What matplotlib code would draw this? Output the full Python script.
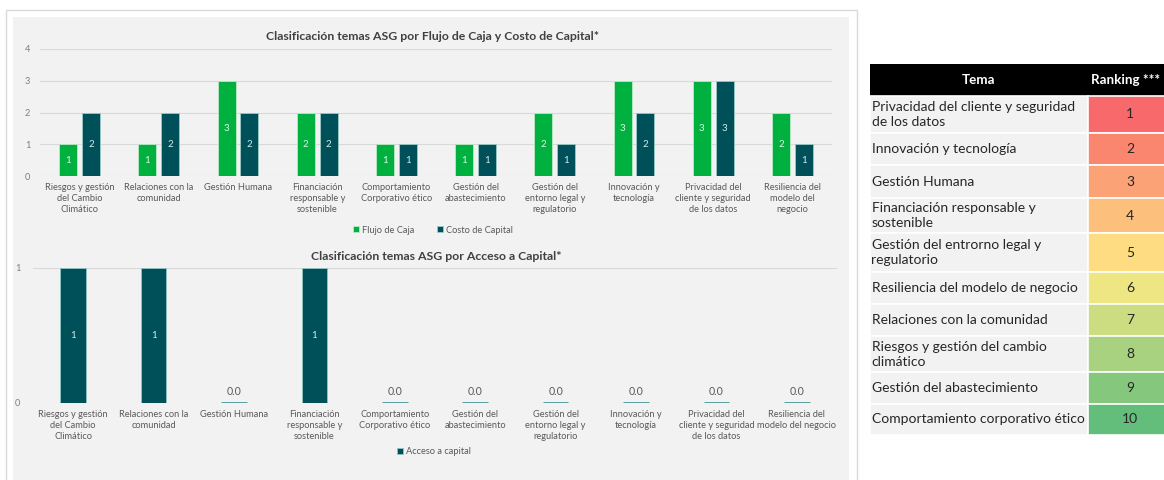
import matplotlib
matplotlib.use('Agg')
import matplotlib.pyplot as plt
from matplotlib.patches import Rectangle
from matplotlib.colors import LinearSegmentedColormap, Normalize
import numpy as np

plt.rcParams['font.family'] = ['Lato', 'DejaVu Sans']

# ---------------- data ----------------
categories_top = ["Riesgos y gestión\ndel Cambio\nClimático", "Relaciones con la\ncomunidad",
                  "Gestión Humana", "Financiación\nresponsable y\nsostenible",
                  "Comportamiento\nCorporativo ético", "Gestión del\nabastecimiento",
                  "Gestión del\nentorno legal y\nregulatorio", "Innovación y\ntecnología",
                  "Privacidad del\ncliente y seguridad\nde los datos",
                  "Resiliencia del\nmodelo del\nnegocio"]
flujo_caja = [1, 1, 3, 2, 1, 1, 2, 3, 3, 2]
costo_capital = [2, 2, 2, 2, 1, 1, 1, 2, 3, 1]
top_yticks = [0, 1, 2, 3, 4]

categories_bottom = ["Riesgos y gestión\ndel Cambio\nClimático", "Relaciones con la\ncomunidad",
                     "Gestión Humana", "Financiación\nresponsable y\nsostenible",
                     "Comportamiento\nCorporativo ético", "Gestión del\nabastecimiento",
                     "Gestión del\nentorno legal y\nregulatorio", "Innovación y\ntecnología",
                     "Privacidad del\ncliente y seguridad\nde los datos",
                     "Resiliencia del\nmodelo del negocio"]
acceso_capital = [1, 1, 0, 1, 0, 0, 0, 0, 0, 0]
bottom_yticks = [0, 1]

title_top = "Clasificación temas ASG por Flujo de Caja y Costo de Capital*"
title_bottom = "Clasificación temas ASG por Acceso a Capital*"

table_header = ["Tema", "Ranking ***"]
table_topics = ["Privacidad del cliente y seguridad\nde los datos",
                "Innovación y tecnología",
                "Gestión Humana",
                "Financiación responsable y\nsostenible",
                "Gestión del entrorno legal y\nregulatorio",
                "Resiliencia del modelo de negocio",
                "Relaciones con la comunidad",
                "Riesgos y gestión del cambio\nclimático",
                "Gestión del abastecimiento",
                "Comportamiento corporativo ético"]
table_ranks = [1, 2, 3, 4, 5, 6, 7, 8, 9, 10]

# ---------------- style ----------------
GREEN = '#00b140'
DARK = '#00505a'
GRID = '#d9d9d9'
LABEL = '#595959'

W, H = 1164, 480
fig = plt.figure(figsize=(W / 100, H / 100), dpi=100)
fig.patch.set_facecolor('white')


def box(l, t, r, b):
    return [l / W, 1 - b / H, (r - l) / W, (b - t) / H]


bg = fig.add_axes([0, 0, 1, 1])
bg.set_xlim(0, W)
bg.set_ylim(H, 0)
bg.axis('off')
bg.set_zorder(0)
bg.add_patch(Rectangle((6, 10), 851, 480, fc='white', ec='#d9d9d9', lw=1))
bg.add_patch(Rectangle((13, 17), 836, 470, fc='#f2f2f2', ec='none'))


def style_axes(ax, ypad):
    ax.patch.set_alpha(0)
    ax.set_zorder(1)
    for s in ax.spines.values():
        s.set_visible(False)
    ax.grid(axis='y', color=GRID, lw=0.8)
    ax.set_axisbelow(True)
    ax.tick_params(axis='x', length=0, labelsize=6.7, labelcolor=LABEL, pad=5)
    ax.tick_params(axis='y', length=0, labelsize=6.7, labelcolor='#7f7f7f', pad=ypad)
    for lab in ax.get_xticklabels():
        lab.set_linespacing(1.3)


# ---------- top chart ----------
ax1 = fig.add_axes(box(40, 49, 832, 176))
x = np.arange(len(categories_top))
w, off = 0.227, 0.143
b1 = ax1.bar(x - off, flujo_caja, w, color=GREEN, edgecolor='#b9e8c6', linewidth=0.6,
             label='Flujo de Caja', zorder=3)
b2 = ax1.bar(x + off, costo_capital, w, color=DARK, edgecolor='#9cc9c6', linewidth=0.6,
             label='Costo de Capital', zorder=3)
ax1.bar_label(b1, label_type='center', color='#e2f5e8', fontsize=7)
ax1.bar_label(b2, label_type='center', color='#d6ecea', fontsize=7)
ax1.set_xlim(-0.5, len(x) - 0.5)
ax1.set_ylim(0, top_yticks[-1])
ax1.set_yticks(top_yticks)
ax1.set_xticks(x, categories_top)
style_axes(ax1, 7)
fig.text(432 / W, 1 - 37 / H, title_top, ha='center', va='center', fontsize=8.8,
         fontweight='bold', color='#404040')
leg1 = fig.legend(handles=[b1, b2], loc='center', bbox_to_anchor=(433 / W, 1 - 230 / H),
                  ncol=2, frameon=False, fontsize=6.7, handlelength=0.6, handleheight=0.6,
                  columnspacing=2.5, handletextpad=0.3, labelcolor=LABEL)

# ---------- bottom chart ----------
ax2 = fig.add_axes(box(33, 267.7, 837, 403))
x2 = np.arange(len(categories_bottom))
b3 = ax2.bar(x2, acceso_capital, 0.32, color=DARK,
             edgecolor=['#8cc0be' if v else '#4a9896' for v in acceso_capital],
             linewidth=[0.7 if v else 2.0 for v in acceso_capital],
             label='Acceso a capital', zorder=3)
ax2.bar_label(b3, labels=[f"{v:d}" if v else "" for v in acceso_capital],
              label_type='center', color='#d6ecea', fontsize=7)
ax2.bar_label(b3, labels=["" if v else f"{v:.1f}" for v in acceso_capital],
              padding=4, color=LABEL, fontsize=7.6)
ax2.set_xlim(-0.5, len(x2) - 0.5)
ax2.set_ylim(0, bottom_yticks[-1])
ax2.set_yticks(bottom_yticks)
ax2.set_xticks(x2, categories_bottom)
style_axes(ax2, 9)
fig.text(436 / W, 1 - 257 / H, title_bottom, ha='center', va='center', fontsize=8.8,
         fontweight='bold', color='#404040')
leg2 = fig.legend(handles=[b3], loc='center', bbox_to_anchor=(434 / W, 1 - 452 / H),
                  ncol=1, frameon=False, fontsize=6.7, handlelength=0.6, handleheight=0.6,
                  handletextpad=0.3, labelcolor=LABEL)

# ---------- ranking table ----------
cmap = LinearSegmentedColormap.from_list('excel3', ['#f8696b', '#ffeb84', '#63be7b'])
norm = Normalize(min(table_ranks), max(table_ranks))
tx0, tsplit, tx1 = 870, 1088, 1172
head_top, head_bot = 64, 96
row_h = [36.5, 32.7, 32.7, 35.6, 38.4, 31.6, 32.7, 35.7, 31.6, 31.7]

bg.add_patch(Rectangle((tx0, head_top), tx1 - tx0, head_bot - head_top, fc='black', ec='none'))
bg.text((tx0 + tsplit) / 2, (head_top + head_bot) / 2, table_header[0], ha='center',
        va='center', color='white', fontsize=9.6, fontweight='bold')
bg.text(1160, (head_top + head_bot) / 2, table_header[1], ha='right',
        va='center', color='white', fontsize=9.6, fontweight='bold')

y = head_bot
for topic, rank, h in zip(table_topics, table_ranks, row_h):
    bg.add_patch(Rectangle((tx0, y), tsplit - tx0, h, fc='#f2f2f2', ec='white', lw=1.2))
    bg.add_patch(Rectangle((tsplit, y), tx1 - tsplit, h, fc=cmap(norm(rank)), ec='white', lw=1.2))
    bg.text(tx0 + 1.5, y + h / 2, topic, ha='left', va='center', color='#262626',
            fontsize=10, linespacing=1.3)
    bg.text((tsplit + tx1) / 2, y + h / 2, str(rank), ha='center', va='center',
            color='#262626', fontsize=10)
    y += h

fig.savefig('out.png', dpi=100, facecolor='white')
